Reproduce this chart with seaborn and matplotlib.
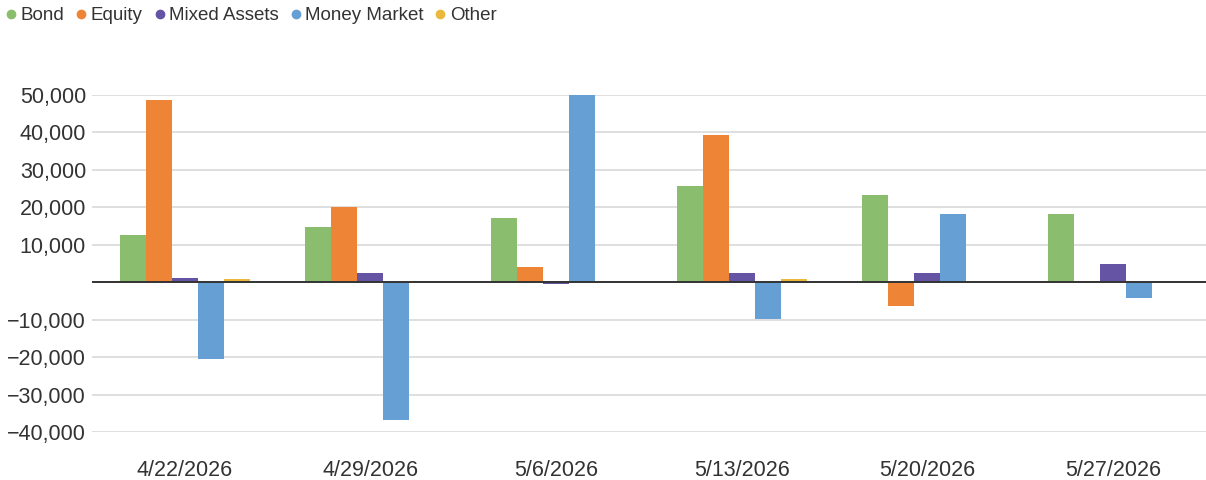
import pandas as pd
import numpy as np
import seaborn as sns
import matplotlib.pyplot as plt
from matplotlib.lines import Line2D
from matplotlib.ticker import FuncFormatter

dates = ["4/22/2026", "4/29/2026", "5/6/2026", "5/13/2026", "5/20/2026", "5/27/2026"]
series = ["Bond", "Equity", "Mixed Assets", "Money Market", "Other"]
bond = [12600, 14700, 17100, 25700, 23300, 18200]
equity = [48700, 20000, 4000, 39300, -6400, 300]
mixed = [1100, 2400, -500, 2400, 2400, 4800]
money = [-20600, -36900, 50000, -9900, 18200, -4300]
other = [800, 300, 300, 800, 300, 100]
colors = ["#8bbd6e", "#ee8536", "#6553a3", "#659fd3", "#e9b83c"]

rows = []
for name, vals in zip(series, [bond, equity, mixed, money, other]):
    for d, v in zip(dates, vals):
        rows.append({"date": d, "series": name, "value": v})
df = pd.DataFrame(rows)

sns.set_style("white")
plt.rcParams["font.family"] = ["Liberation Sans", "DejaVu Sans"]

fig = plt.figure(figsize=(12.06, 4.8), dpi=100)
ax = fig.add_axes([0.076, 0.1, 0.924, 0.702])

sns.barplot(data=df, x="date", y="value", hue="series", order=dates, hue_order=series,
            palette=colors, width=0.7, saturation=1, legend=False, linewidth=0, ax=ax)

ax.set_ylim(-40000, 50000)
ax.set_yticks(np.arange(-40000, 50001, 10000))
ax.yaxis.set_major_formatter(FuncFormatter(
    lambda v, p: "" if v == 0 else f"{v:,.0f}".replace("-", "\u2212")))
ax.grid(axis="y", color="#d9d9d9", linewidth=1.2)
ax.set_axisbelow(True)
ax.axhline(0, color="#333333", linewidth=1.4)
for s in ax.spines.values():
    s.set_visible(False)
ax.tick_params(axis="y", length=0, labelsize=15.5, colors="#333333", pad=4)
ax.tick_params(axis="x", length=0, labelsize=15.5, colors="#333333", pad=20)
ax.set_xlabel("")
ax.set_ylabel("")

handles = [Line2D([], [], marker="o", linestyle="", color=c, markersize=6) for c in colors]
fig.legend(handles, series, loc="upper left", bbox_to_anchor=(-0.01, 1.02), ncol=5,
           frameon=False, fontsize=13.5, handletextpad=0.15, columnspacing=0.55,
           handlelength=0.7, labelcolor="#333333")

plt.savefig("out.png", dpi=100)
